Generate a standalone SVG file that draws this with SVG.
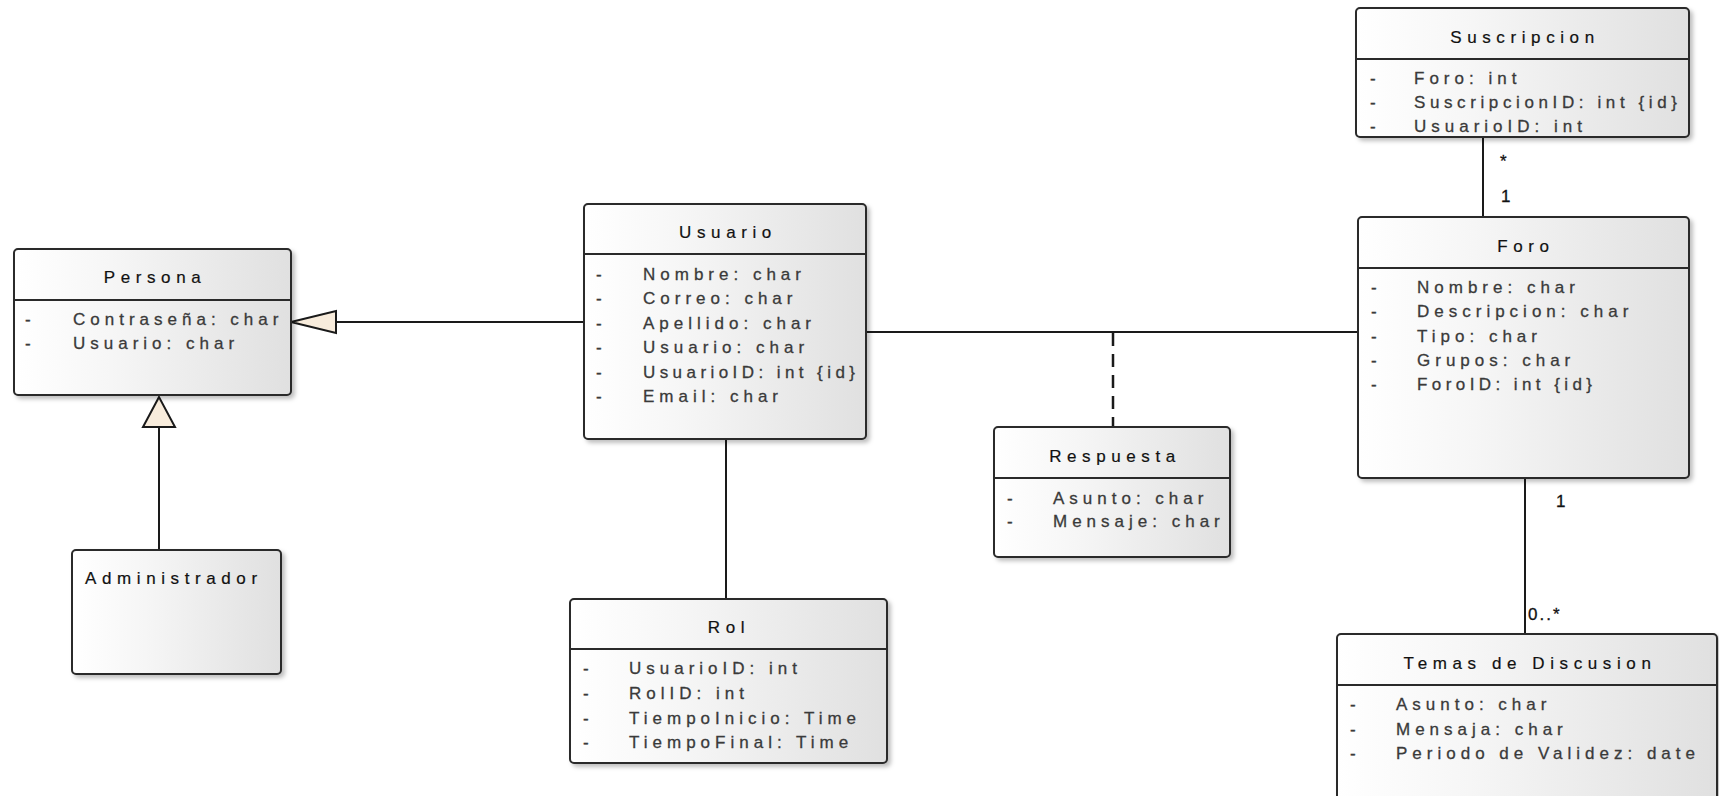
<svg xmlns="http://www.w3.org/2000/svg" width="1719" height="796" viewBox="0 0 1719 796">
  <defs>
    <linearGradient id="classFill" x1="0" y1="0" x2="1" y2="0">
      <stop offset="0" stop-color="#ffffff"/>
      <stop offset="0.35" stop-color="#f6f6f6"/>
      <stop offset="1" stop-color="#e0e0e0"/>
    </linearGradient>
    <filter id="shadow" x="-5%" y="-5%" width="115%" height="115%">
      <feDropShadow dx="3" dy="3" stdDeviation="2" flood-color="#000" flood-opacity="0.25"/>
    </filter>
  </defs>
  <style>
    .box { fill: url(#classFill); stroke: #2a2a2a; stroke-width: 2; filter: url(#shadow); }
    .sep { stroke: #2a2a2a; stroke-width: 2; }
    .title { font-family: "Liberation Sans", Arial, sans-serif; font-size: 17px; letter-spacing: 5.6px; fill: #111; stroke: #111; stroke-width: 0.2px; text-anchor: middle; }
    .titleL { font-family: "Liberation Sans", Arial, sans-serif; font-size: 17px; letter-spacing: 5.6px; fill: #111; stroke: #111; stroke-width: 0.2px; }
    .attr { font-family: "Liberation Sans", Arial, sans-serif; font-size: 17px; letter-spacing: 5px; fill: #3a3a3a; stroke: #3a3a3a; stroke-width: 0.3px; }
    .fit { letter-spacing: 0; }
    .mult { font-family: "Liberation Sans", Arial, sans-serif; font-size: 17px; letter-spacing: 2px; fill: #111; stroke: #111; stroke-width: 0.3px; }
    .edge { stroke: #1a1a1a; stroke-width: 2; fill: none; }
    .dash { stroke: #1a1a1a; stroke-width: 2.5; fill: none; stroke-dasharray: 13 8; }
    .gen { fill: #f8ecdc; stroke: #1a1a1a; stroke-width: 2; stroke-linejoin: miter; }
  </style>

  <rect width="1719" height="796" fill="#ffffff"/>

  <!-- connectors -->
  <g id="connectors">
    <!-- Usuario generalizes Persona -->
    <line class="edge" x1="336" y1="322" x2="584" y2="322"/>
    <polygon class="gen" points="291,322 336,311 336,333"/>
    <!-- Administrador generalizes Persona -->
    <line class="edge" x1="159" y1="427" x2="159" y2="550"/>
    <polygon class="gen" points="159,397 143,427 175,427"/>
    <!-- Usuario - Rol -->
    <line class="edge" x1="726" y1="439" x2="726" y2="599"/>
    <!-- Usuario - Foro association -->
    <line class="edge" x1="866" y1="332" x2="1358" y2="332"/>
    <!-- association class Respuesta -->
    <line class="dash" x1="1113" y1="333" x2="1113" y2="427"/>
    <!-- Suscripcion - Foro -->
    <line class="edge" x1="1483" y1="137" x2="1483" y2="217"/>
    <text class="mult" x="1500" y="167">*</text>
    <text class="mult" x="1501" y="202">1</text>
    <!-- Foro - Temas de Discusion -->
    <line class="edge" x1="1525" y1="478" x2="1525" y2="634"/>
    <text class="mult" x="1556" y="507">1</text>
    <text class="mult" x="1528" y="620">0..*</text>
  </g>

  <!-- Persona -->
  <g id="persona">
    <rect class="box" x="14" y="249" width="277" height="146" rx="4"/>
    <line class="sep" x1="14" y1="300" x2="291" y2="300"/>
    <text class="title" x="155" y="283">Persona</text>
    <text class="attr" x="25" y="325">-</text>
    <text class="attr" x="73" y="325">Contraseña: char</text>
    <text class="attr" x="25" y="349">-</text>
    <text class="attr" x="73" y="349">Usuario: char</text>
  </g>

  <!-- Administrador -->
  <g id="administrador">
    <rect class="box" x="72" y="550" width="209" height="124" rx="4"/>
    <text class="titleL" x="85" y="584">Administrador</text>
  </g>

  <!-- Usuario -->
  <g id="usuario">
    <rect class="box" x="584" y="204" width="282" height="235" rx="4"/>
    <line class="sep" x1="584" y1="254" x2="866" y2="254"/>
    <text class="title" x="728" y="238">Usuario</text>
    <text class="attr" x="596" y="280">-</text>
    <text class="attr" x="643" y="280">Nombre: char</text>
    <text class="attr" x="596" y="304">-</text>
    <text class="attr" x="643" y="304">Correo: char</text>
    <text class="attr" x="596" y="329">-</text>
    <text class="attr" x="643" y="329">Apellido: char</text>
    <text class="attr" x="596" y="353">-</text>
    <text class="attr" x="643" y="353">Usuario: char</text>
    <text class="attr" x="596" y="378">-</text>
    <text class="attr fit" x="643" y="378" textLength="212" lengthAdjust="spacing">UsuarioID: int {id}</text>
    <text class="attr" x="596" y="402">-</text>
    <text class="attr" x="643" y="402">Email: char</text>
  </g>

  <!-- Rol -->
  <g id="rol">
    <rect class="box" x="570" y="599" width="317" height="164" rx="4"/>
    <line class="sep" x1="570" y1="649" x2="887" y2="649"/>
    <text class="title" x="729" y="633">Rol</text>
    <text class="attr" x="583" y="674">-</text>
    <text class="attr" x="629" y="674">UsuarioID: int</text>
    <text class="attr" x="583" y="699">-</text>
    <text class="attr" x="629" y="699">RolID: int</text>
    <text class="attr" x="583" y="724">-</text>
    <text class="attr" x="629" y="724">TiempoInicio: Time</text>
    <text class="attr" x="583" y="748">-</text>
    <text class="attr" x="629" y="748">TiempoFinal: Time</text>
  </g>

  <!-- Respuesta -->
  <g id="respuesta">
    <rect class="box" x="994" y="427" width="236" height="130" rx="4"/>
    <line class="sep" x1="994" y1="478" x2="1230" y2="478"/>
    <text class="title" x="1115" y="462">Respuesta</text>
    <text class="attr" x="1007" y="504">-</text>
    <text class="attr" x="1053" y="504">Asunto: char</text>
    <text class="attr" x="1007" y="527">-</text>
    <text class="attr" x="1053" y="527">Mensaje: char</text>
  </g>

  <!-- Suscripcion -->
  <g id="suscripcion">
    <rect class="box" x="1356" y="8" width="333" height="129" rx="4"/>
    <line class="sep" x1="1356" y1="59" x2="1689" y2="59"/>
    <text class="title" x="1525" y="43">Suscripcion</text>
    <text class="attr" x="1370" y="84">-</text>
    <text class="attr" x="1414" y="84">Foro: int</text>
    <text class="attr" x="1370" y="108">-</text>
    <text class="attr fit" x="1414" y="108" textLength="263" lengthAdjust="spacing">SuscripcionID: int {id}</text>
    <text class="attr" x="1370" y="132">-</text>
    <text class="attr" x="1414" y="132">UsuarioID: int</text>
  </g>

  <!-- Foro -->
  <g id="foro">
    <rect class="box" x="1358" y="217" width="331" height="261" rx="4"/>
    <line class="sep" x1="1358" y1="268" x2="1689" y2="268"/>
    <text class="title" x="1526" y="252">Foro</text>
    <text class="attr" x="1371" y="293">-</text>
    <text class="attr" x="1417" y="293">Nombre: char</text>
    <text class="attr" x="1371" y="317">-</text>
    <text class="attr" x="1417" y="317">Descripcion: char</text>
    <text class="attr" x="1371" y="342">-</text>
    <text class="attr" x="1417" y="342">Tipo: char</text>
    <text class="attr" x="1371" y="366">-</text>
    <text class="attr" x="1417" y="366">Grupos: char</text>
    <text class="attr" x="1371" y="390">-</text>
    <text class="attr fit" x="1417" y="390" textLength="175" lengthAdjust="spacing">ForoID: int {id}</text>
  </g>

  <!-- Temas de Discusion -->
  <g id="temas-de-discusion">
    <rect class="box" x="1337" y="634" width="380" height="180" rx="4"/>
    <line class="sep" x1="1337" y1="685" x2="1717" y2="685"/>
    <text class="title" x="1530" y="669">Temas de Discusion</text>
    <text class="attr" x="1350" y="710">-</text>
    <text class="attr" x="1396" y="710">Asunto: char</text>
    <text class="attr" x="1350" y="735">-</text>
    <text class="attr" x="1396" y="735">Mensaja: char</text>
    <text class="attr" x="1350" y="759">-</text>
    <text class="attr" x="1396" y="759">Periodo de Validez: date</text>
  </g>
</svg>
